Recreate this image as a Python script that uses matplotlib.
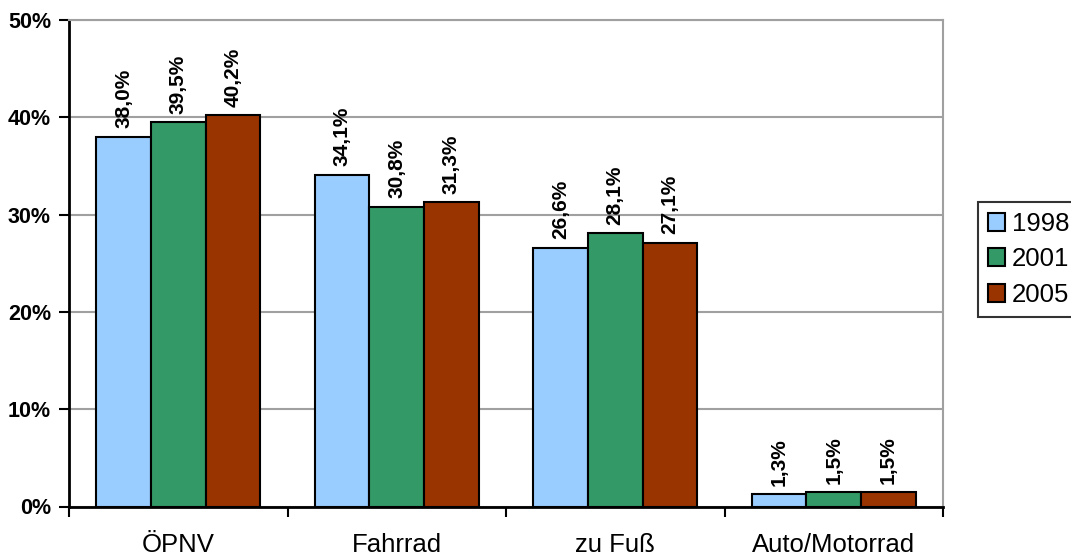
import matplotlib
matplotlib.use("Agg")
import matplotlib.pyplot as plt
import numpy as np
from matplotlib.patches import Patch

plt.rcParams['font.family'] = ['Liberation Sans', 'DejaVu Sans']

categories = ["ÖPNV", "Fahrrad", "zu Fuß", "Auto/Motorrad"]
years = ["1998", "2001", "2005"]
values_1998 = [38.0, 34.1, 26.6, 1.3]
values_2001 = [39.5, 30.8, 28.1, 1.5]
values_2005 = [40.2, 31.3, 27.1, 1.5]
yticks = [0, 10, 20, 30, 40, 50]

series = [values_1998, values_2001, values_2005]
colors = ["#99CCFF", "#339966", "#993300"]

fig = plt.figure(figsize=(10.71, 5.56), dpi=100)
ax = fig.add_axes([69 / 1071, 1 - 506.5 / 556, (943 - 69) / 1071, (506.5 - 20) / 556])

x = np.arange(len(categories))
width = 0.25
for i, (vals, col) in enumerate(zip(series, colors)):
    pos = x + (i - 1) * width
    ax.bar(pos, vals, width=width, color=col, edgecolor="black", linewidth=1.5, zorder=3)
    for px, v in zip(pos, vals):
        ax.annotate(f"{v:.1f}%".replace(".", ","), (px, v), xytext=(0, 6),
                    textcoords="offset points", rotation=90, ha="center", va="bottom",
                    fontsize=15, fontweight="bold", zorder=4)

ax.set_xlim(-0.5, len(categories) - 0.5)
ax.set_ylim(0, 50)
ax.set_yticks(yticks)
ax.set_yticklabels([f"{t}%" for t in yticks], fontsize=15.5, fontweight="bold")
ax.yaxis.grid(True, color="#a0a0a0", linewidth=1.5, zorder=0)

# category boundaries carry the ticks, labels sit centred under each group
ax.set_xticks(np.arange(len(categories) + 1) - 0.5)
ax.set_xticklabels([])
ax.set_xticks(x, minor=True)
ax.set_xticklabels(categories, minor=True, fontsize=18.5)
ax.tick_params(axis="x", which="minor", length=0, pad=19)
ax.tick_params(axis="x", which="major", direction="out", length=7, width=1.5)
ax.tick_params(axis="y", direction="out", length=7, width=1.5, pad=6)

for s in ["left", "bottom"]:
    ax.spines[s].set_linewidth(2)
    ax.spines[s].set_color("black")
for s in ["top", "right"]:
    ax.spines[s].set_linewidth(1.5)
    ax.spines[s].set_color("#a0a0a0")

handles = [Patch(facecolor=c, edgecolor="black", linewidth=1.5) for c in colors]
fig.legend(handles, years, loc="upper left", bbox_to_anchor=(978 / 1071, 1 - 202 / 556),
           fontsize=18.5, frameon=True, fancybox=False, edgecolor="black",
           handlelength=0.68, handleheight=0.68, handletextpad=0.25,
           borderpad=0.38, labelspacing=0.45, borderaxespad=0)
fig.legends[0].get_frame().set_linewidth(1.5)

fig.savefig("out.png", dpi=100)
